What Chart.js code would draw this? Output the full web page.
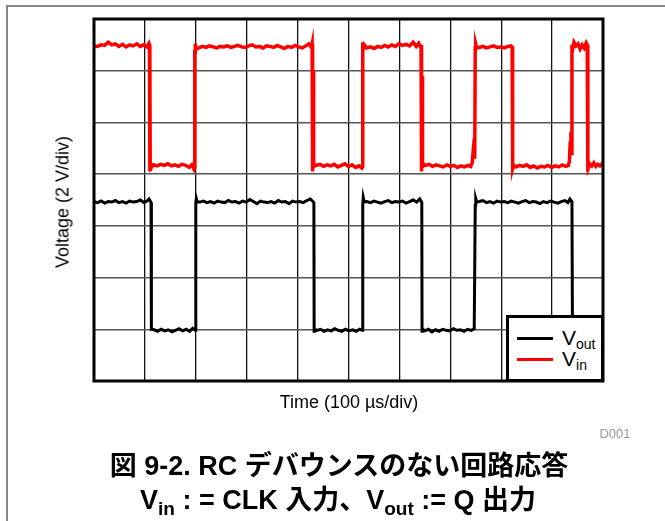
<!DOCTYPE html>
<html>
<head>
<meta charset="utf-8">
<script src="https://cdn.jsdelivr.net/npm/chart.js@4.4.0/dist/chart.umd.min.js"></script>
<style>
  html, body { margin:0; padding:0; background:#fff; }
  #wrap { position:relative; width:665px; height:521px; overflow:hidden; font-family:"Liberation Sans", Arial, "Noto Sans CJK JP", sans-serif; }
  #c { position:absolute; left:0; top:0; }
  .abs { position:absolute; white-space:nowrap; }
  .ctr { transform:translate(-50%,-50%); }
  #legend { position:absolute; left:506px; top:315px; width:98px; height:67px; box-sizing:border-box; background:#fff; border:3px solid #000; }
  .lg-line { position:absolute; height:3px; }
  .lg-txt { position:absolute; font-size:21px; line-height:20px; color:#000; }
  .lg-txt sub { font-size:14px; vertical-align:-4px; line-height:0; }
  .cap { font-weight:bold; font-size:27px; color:#000; font-family:"Liberation Sans", Arial, "Noto Sans CJK JP", sans-serif; }
  .cap sub { font-size:19px; vertical-align:-6px; line-height:0; }
</style>
</head>
<body>
<div id="wrap">
  <div class="abs" style="left:6px;top:5px;width:659px;height:2px;background:#888;"></div>
  <div class="abs" style="left:6px;top:5px;width:2px;height:516px;background:#888;"></div>
  <canvas id="c" width="665" height="521"></canvas>
  <div id="legend">
    <div class="lg-line" style="left:8px;top:19px;width:36px;background:#000;"></div>
    <div class="lg-line" style="left:8px;top:40px;width:36px;background:#f00;"></div>
    <div class="lg-txt" style="left:53px;top:10px;">V<sub>out</sub></div>
    <div class="lg-txt" style="left:53px;top:31px;">V<sub>in</sub></div>
  </div>
  <div class="abs ctr" style="left:349px;top:402px;font-size:18px;color:#000;">Time (100 µs/div)</div>
  <div class="abs" style="left:63px;top:202px;font-size:18px;color:#000;transform:translate(-50%,-50%) rotate(-90deg);">Voltage (2 V/div)</div>
  <div class="abs ctr" style="left:615px;top:433px;font-size:13px;color:#999;">D001</div>
  <div class="abs ctr cap" style="left:339px;top:463px;">図 9-2. RC デバウンスのない回路応答</div>
  <div class="abs ctr cap" style="left:338px;top:497px;">V<sub>in</sub> : = CLK 入力、V<sub>out</sub> := Q 出力</div>
</div>
<script>
// Time in divisions (100 µs/div), voltage in divisions (2 V/div)
const vinTime = [
  0.00,0.07,0.14,0.21,0.28,0.35,0.42,0.49,0.56,0.63,0.70,0.77,0.84,0.91,0.98,1.04,1.08,
  1.09,1.095,1.10,1.105,1.11,1.12,
  1.17,1.24,1.31,1.38,1.45,1.52,1.59,1.66,1.73,1.80,1.87,1.92,1.96,
  1.975,1.98,1.985,1.99,2.01,
  2.06,2.13,2.20,2.27,2.34,2.41,2.48,2.55,2.62,2.69,2.76,2.83,2.90,2.97,3.04,3.11,3.18,3.25,3.32,3.39,3.46,3.53,3.60,3.67,3.74,3.81,3.88,3.95,4.02,4.09,4.16,4.22,4.27,
  4.285,4.29,4.295,4.30,4.305,4.31,4.32,
  4.37,4.44,4.51,4.58,4.65,4.72,4.79,4.86,4.93,5.00,5.07,5.14,5.21,5.26,
  5.275,5.28,5.29,5.31,
  5.36,5.43,5.50,5.57,5.64,5.71,5.78,5.85,5.92,5.99,6.06,6.13,6.20,6.27,6.33,6.38,6.42,
  6.425,6.43,6.435,6.44,6.445,6.45,6.46,
  6.51,6.58,6.65,6.72,6.79,6.86,6.93,7.00,7.07,7.14,7.21,7.28,7.35,7.40,
  7.43,7.45,7.47,7.48,7.49,7.50,7.52,
  7.57,7.64,7.71,7.78,7.85,7.92,7.99,8.06,8.13,8.19,
  8.215,8.22,8.225,8.23,8.24,
  8.29,8.36,8.43,8.50,8.57,8.64,8.71,8.78,8.85,8.92,8.99,9.06,9.13,9.20,9.27,9.32,
  9.34,9.355,9.37,9.38,9.39,9.40,
  9.43,9.47,9.51,9.55,9.59,9.63,9.67,9.69,
  9.70,9.705,9.71,9.74,9.78,9.82,9.86,9.90,9.94,9.98,10.00
];
const vinVolt = [
  6.48,6.47,6.50,6.49,6.55,6.50,6.52,6.47,6.51,6.46,6.50,6.48,6.52,6.47,6.50,6.46,6.53,
  6.50,4.05,6.30,4.10,4.22,4.12,
  4.18,4.16,4.19,4.17,4.20,4.16,4.18,4.15,4.19,4.17,4.13,4.18,4.10,
  4.15,6.40,6.35,6.52,6.42,
  6.44,6.47,6.45,6.48,6.46,6.44,6.47,6.46,6.48,6.45,6.47,6.49,6.46,6.45,6.48,6.50,6.46,6.47,6.44,6.48,6.47,6.45,6.49,6.46,6.43,6.47,6.45,6.49,6.46,6.44,6.48,6.52,6.45,
  6.52,4.10,6.40,4.05,6.00,4.12,4.20,
  4.17,4.19,4.15,4.18,4.16,4.19,4.14,4.17,4.20,4.15,4.18,4.13,4.16,4.12,
  4.15,6.55,6.42,6.50,
  6.44,6.46,6.43,6.47,6.45,6.49,6.46,6.50,6.47,6.52,6.49,6.51,6.48,6.55,6.47,6.53,6.45,
  6.50,4.05,6.35,4.08,5.90,4.12,4.20,
  4.17,4.19,4.15,4.18,4.16,4.14,4.18,4.15,4.17,4.13,4.16,4.14,4.17,4.15,
  4.22,4.45,4.68,4.30,6.45,6.52,6.44,
  6.45,6.47,6.44,6.46,6.48,6.45,6.46,6.44,6.47,6.48,
  6.46,4.08,6.20,4.12,4.18,
  4.14,4.17,4.15,4.18,4.13,4.16,4.12,4.15,4.14,4.17,4.13,4.16,4.14,4.18,4.15,4.17,
  4.25,4.60,4.82,4.40,6.50,6.40,
  6.55,6.48,6.52,6.42,6.50,6.44,6.54,6.50,
  4.05,4.30,4.12,4.20,4.16,4.22,4.15,4.19,4.16,4.20,4.17
];
const voutTime = [
  0.00,0.07,0.14,0.21,0.28,0.35,0.42,0.49,0.56,0.63,0.70,0.77,0.84,0.91,0.98,1.04,1.08,1.11,
  1.12,1.125,1.13,
  1.18,1.25,1.32,1.39,1.46,1.53,1.60,1.67,1.74,1.81,1.88,1.94,1.99,
  2.00,2.01,2.03,
  2.08,2.15,2.22,2.29,2.36,2.43,2.50,2.57,2.64,2.71,2.78,2.85,2.92,2.99,3.06,3.13,3.20,3.27,3.34,3.41,3.48,3.55,3.62,3.69,3.76,3.83,3.90,3.97,4.04,4.11,4.18,4.25,4.30,
  4.32,4.325,4.33,
  4.38,4.45,4.52,4.59,4.66,4.73,4.80,4.87,4.94,5.01,5.08,5.15,5.22,5.27,
  5.28,5.29,5.31,
  5.36,5.43,5.50,5.57,5.64,5.71,5.78,5.85,5.92,5.99,6.06,6.13,6.20,6.27,6.34,6.40,6.43,
  6.44,6.445,6.45,
  6.50,6.57,6.64,6.71,6.78,6.85,6.92,6.99,7.06,7.13,7.20,7.27,7.34,7.41,7.47,
  7.49,7.50,7.52,
  7.57,7.64,7.71,7.78,7.85,7.92,7.99,8.06,8.13,8.20,8.27,8.34,8.41,8.48,8.55,8.62,8.69,8.76,8.83,8.90,8.97,9.04,9.11,9.18,9.25,9.31,9.35,9.38,
  9.39,9.40,9.50,9.60,9.70,9.80,9.90,10.00
];
const voutVolt = [
  3.47,3.45,3.48,3.44,3.47,3.46,3.49,3.45,3.47,3.44,3.48,3.46,3.47,3.50,3.45,3.48,3.52,3.47,
  3.45,0.97,1.00,
  0.99,0.96,1.00,0.97,0.99,0.95,0.98,1.01,0.97,1.00,0.96,1.02,0.98,
  3.45,3.53,3.46,
  3.46,3.48,3.45,3.47,3.44,3.48,3.46,3.45,3.49,3.46,3.47,3.44,3.48,3.46,3.51,3.47,3.43,3.48,3.46,3.45,3.47,3.44,3.49,3.46,3.47,3.43,3.48,3.46,3.47,3.45,3.49,3.52,3.47,
  3.45,0.96,1.00,
  0.98,1.00,0.96,0.99,0.97,1.01,0.98,0.96,1.00,0.97,0.99,0.96,1.00,0.98,
  3.40,3.55,3.46,
  3.47,3.45,3.48,3.46,3.44,3.47,3.49,3.45,3.47,3.46,3.48,3.44,3.47,3.50,3.46,3.52,3.47,
  3.45,0.96,1.01,
  0.97,1.00,0.95,0.99,0.96,1.00,0.98,0.97,1.01,0.98,0.99,0.96,1.00,0.98,1.01,
  3.40,3.53,3.46,
  3.47,3.49,3.45,3.47,3.44,3.48,3.46,3.47,3.45,3.48,3.46,3.44,3.47,3.49,3.45,3.47,3.46,3.43,3.47,3.45,3.48,3.46,3.44,3.47,3.49,3.45,3.52,3.48,
  3.45,0.98,1.00,0.97,0.99,0.98,1.00,0.98
];
const seriesNames = ['Vout', 'Vin'];

function toPoints(t, v) { return t.map((x, i) => ({ x: x, y: v[i] })); }

const framePlugin = {
  id: 'frame',
  afterDatasetsDraw(chart) {
    const a = chart.chartArea, ctx = chart.ctx;
    ctx.save();
    ctx.strokeStyle = '#000';
    ctx.lineWidth = 3;
    ctx.strokeRect(a.left, a.top, a.right - a.left, a.bottom - a.top);
    ctx.restore();
  }
};

new Chart(document.getElementById('c'), {
  type: 'line',
  data: {
    datasets: [
      { label: seriesNames[0], data: toPoints(voutTime, voutVolt), borderColor: '#000', borderWidth: 3, pointRadius: 0, tension: 0 },
      { label: seriesNames[1], data: toPoints(vinTime, vinVolt), borderColor: '#ff0000', borderWidth: 3.5, pointRadius: 0, tension: 0 }
    ]
  },
  options: {
    responsive: false,
    animation: false,
    devicePixelRatio: 1,
    layout: { padding: { left: 94, top: 19, right: 62, bottom: 140 } },
    plugins: { legend: { display: false }, tooltip: { enabled: false } },
    scales: {
      x: { type: 'linear', min: 0, max: 10,
           ticks: { display: false, stepSize: 1 },
           grid: { color: '#111', lineWidth: 1.3, drawTicks: false },
           border: { display: false } },
      y: { type: 'linear', min: 0, max: 7,
           ticks: { display: false, stepSize: 1 },
           grid: { color: '#555', lineWidth: 1.5, drawTicks: false },
           border: { display: false } }
    }
  },
  plugins: [framePlugin]
});
</script>
</body>
</html>
